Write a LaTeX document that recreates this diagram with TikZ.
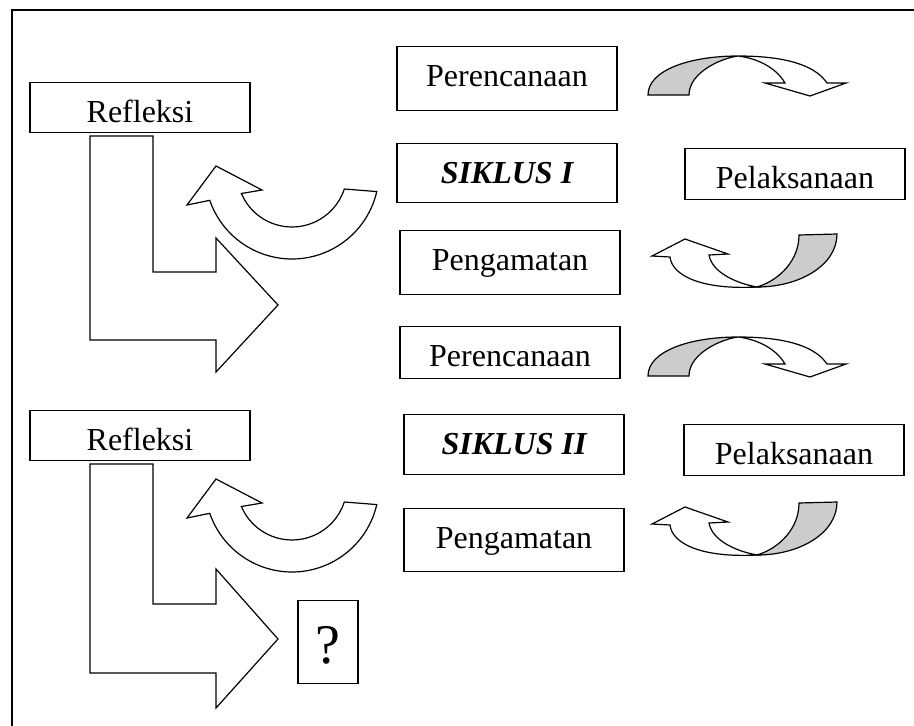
\documentclass[tikz,border=0pt]{standalone}
\usepackage{fontspec}
\setmainfont{Liberation Serif}
\usepackage{xcolor}
\definecolor{backshade}{gray}{0.8}
\tikzset{
  stagebox/.style={draw, line width=1.3pt, inner sep=0pt, anchor=north,
    minimum width=220pt, text height=40pt, font=\fontsize{32}{38}\selectfont},
  outline/.style={draw, line width=1.2pt, line join=miter, fill=white},
}

\begin{document}
\begin{tikzpicture}[x=1pt,y=-1pt]
    \useasboundingbox (0,0) rectangle (914,726);
    \draw[line width=1.5pt] (12,726) -- (12,10) -- (914,10);
    % siklus I
    \node[stagebox, text depth=10pt] (ref1) at (140,82) {Refleksi};
    \node[stagebox, text depth=24pt] (per1) at (507,46) {Perencanaan};
    \node[stagebox, text depth=19pt] (sik1) at (507,143) {\bfseries\itshape SIKLUS I};
    \node[stagebox, text depth=11pt] (pel1) at (795,148) {Pelaksanaan};
    \node[stagebox, text depth=24pt] (pen1) at (510,230) {Pengamatan};
    % siklus II
    \node[stagebox, text depth=12pt] (per2) at (510,326) {Perencanaan};
    \node[stagebox, text depth=10pt] (ref2) at (140,410) {Refleksi};
    \node[stagebox, text depth=20pt] (sik2) at (514,414) {\bfseries\itshape SIKLUS II};
    \node[stagebox, text depth=11pt] (pel2) at (794,424) {Pelaksanaan};
    \node[stagebox, text depth=23pt] (pen2) at (514,508) {Pengamatan};
    \node[stagebox, minimum width=60pt, text height=63pt, text depth=20pt,
      font=\fontsize{56}{60}\selectfont] (next) at (328,600) {?};
    % bent arrows
    \draw[outline] (90,136) -- (153,136) -- (153,272) -- (216,272) -- (216,238)
      -- (278,305) -- (216,372) -- (216,340) -- (90,340) -- cycle;
    \draw[outline] (90,464) -- (153,464) -- (153,604) -- (216,604) -- (216,569)
      -- (278,639) -- (216,708) -- (216,673) -- (90,673) -- cycle;
    % big curved arrows
    \foreach \dy in {0,313}
      \draw[outline] ([shift={(13:87)}]292,172+\dy) arc[start angle=13,end angle=161,radius=87]
        -- (187,205+\dy) -- (216,166+\dy) -- (262,190+\dy)
        -- ([shift={(157:55)}]292,172+\dy) arc[start angle=157,end angle=18,radius=55] -- cycle;
    % small arrows, top
    \foreach \dy in {0,281} {
      \begin{scope}[shift={(0,\dy)}]
        \draw[outline, fill=backshade] (648,95) .. controls (648,70) and (690,56) .. (738,56)
          .. controls (722,58) and (689,72) .. (689,95) -- cycle;
        \draw[outline] (738,56) .. controls (785,56) and (815,65) .. (827,83) -- (846,83)
          -- (810,96) -- (765,83) -- (785,83) .. controls (775,66) and (755,58) .. (738,56) -- cycle;
      \end{scope}
    }
    % small arrows, bottom
    \foreach \dy in {0,268} {
      \begin{scope}[shift={(0,\dy)}]
        \draw[outline, fill=backshade] (837,234) .. controls (837,265) and (800,287) .. (757,287)
          .. controls (780,280) and (799,260) .. (799,235) -- cycle;
        \draw[outline] (757,287) .. controls (700,290) and (672,275) .. (670,257) -- (652,256)
          -- (685,239) -- (728,254) -- (709,255) .. controls (712,272) and (735,283) .. (757,287) -- cycle;
      \end{scope}
    }
\end{tikzpicture}
\end{document}
